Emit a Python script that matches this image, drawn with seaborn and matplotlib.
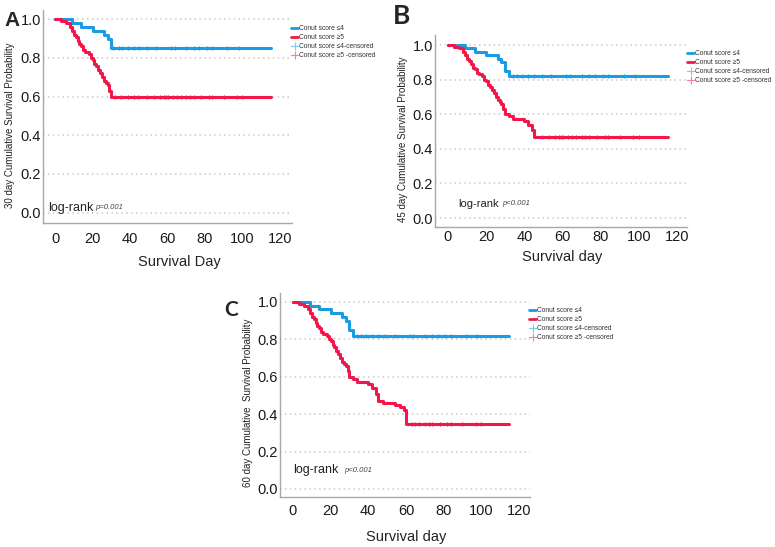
import pandas as pd
import seaborn as sns
import matplotlib.pyplot as plt
from matplotlib.lines import Line2D

# Kaplan-Meier step values (day, survival)
blue_times = [0, 9, 14, 20, 26, 28, 30, 32]
blue_surv = [1.0, 0.98, 0.96, 0.94, 0.92, 0.90, 0.85, 0.82]
red_times = [0, 3, 6, 8, 9, 10, 11, 12, 13, 14, 15, 16, 18, 19, 20, 21, 22, 23,
             24, 25, 26, 27, 28, 29, 30, 32, 34, 40, 42, 44, 45, 48, 54, 57, 59, 60]
red_surv = [1.0, 0.99, 0.98, 0.96, 0.94, 0.92, 0.91, 0.89, 0.87, 0.86, 0.84, 0.83,
            0.82, 0.80, 0.79, 0.77, 0.76, 0.74, 0.72, 0.70, 0.68, 0.67, 0.66, 0.63,
            0.60, 0.59, 0.57, 0.56, 0.54, 0.51, 0.47, 0.46, 0.45, 0.44, 0.42, 0.35]
blue_censor = [31, 34, 36, 39, 42, 45, 49, 54, 62, 64, 70, 74, 77, 81, 84, 92, 98]
red_censor = [32, 35, 39, 42, 44, 49, 53, 56, 58, 59, 60, 63, 65, 67, 70, 72, 74,
              78, 82, 84, 90, 97, 100]
end_day = 115

horizons = [30, 45, 60]
panel_letters = ["A", "B", "C"]
y_titles = ["30 day Cumulative Survival Probability",
            "45 day Cumulative Survival Probability",
            "60 day Cumulative  Survival Probability"]
x_titles = ["Survival Day", "Survival day", "Survival day"]
p_texts = ["p=0.001", "p<0.001", "p<0.001"]
legend_labels = ["Conut score \u22644", "Conut score \u22655",
                 "Conut score \u22644-censored", "Conut score \u22655 -censored"]
x_ticks = [0, 20, 40, 60, 80, 100, 120]
y_ticks = [0.0, 0.2, 0.4, 0.6, 0.8, 1.0]

BLUE = "#1b9be3"
RED = "#f2164b"
W, H = 775, 547

sns.set_style("white")
plt.rcParams["font.family"] = ["Liberation Sans", "DejaVu Sans"]

# layout in pixels: axes box, limits, label spots
layout = [
    dict(box=(43, 10, 292, 222.7), xlim=(-6.4, 126.4), ylim=(-0.052, 1.048),
         letter=(12, 20, 15, "Liberation Sans"), ylab=(10, 125), xlab=(179, 262),
         leg=(291, 25), logrank=(-3.5, 0.025, 9), pval=21.5, xpad=6.5),
    dict(box=(435, 35, 687, 227), xlim=(-6.8, 125.2), ylim=(-0.052, 1.058),
         letter=(402, 16, 19, "Lato"), ylab=(403, 139), xlab=(562, 257),
         leg=(687, 50), logrank=(5.2, 0.081, 8), pval=28.5, xpad=2.5),
    dict(box=(280, 293, 530, 497), xlim=(-6.9, 125.9), ylim=(-0.043, 1.048),
         letter=(231, 310, 15, "Lato"), ylab=(248, 403), xlab=(406, 537),
         leg=(529, 307), logrank=(0, 0.10, 9), pval=27, xpad=5),
]


def km_frame(times, surv, horizon):
    kept = [(t, s) for t, s in zip(times, surv) if t <= horizon]
    last_t, last_s = kept[-1]
    kept.append((end_day, last_s))
    return pd.DataFrame(kept, columns=["day", "surv"]), last_t, last_s


fig = plt.figure(figsize=(W / 100, H / 100), dpi=100)

for i, lay in enumerate(layout):
    x0, y0, x1, y1 = lay["box"]
    ax = fig.add_axes([x0 / W, 1 - y1 / H, (x1 - x0) / W, (y1 - y0) / H])

    for times, surv, cens, col in [(blue_times, blue_surv, blue_censor, BLUE),
                                   (red_times, red_surv, red_censor, RED)]:
        df, last_t, last_s = km_frame(times, surv, horizons[i])
        sns.lineplot(data=df, x="day", y="surv", drawstyle="steps-post",
                     color=col, lw=2.2, estimator=None, sort=False, ax=ax, zorder=3)
        c_days = [c for c in cens if c > last_t]
        ax.plot(c_days, [last_s] * len(c_days), ls="none", marker="|",
                ms=3.5, mew=0.9, color=col, zorder=4)

    ax.set_xlim(*lay["xlim"])
    ax.set_ylim(*lay["ylim"])
    ax.set_xticks(x_ticks)
    ax.set_yticks(y_ticks)
    ax.set_yticklabels([f"{v:.1f}" for v in y_ticks])
    ax.tick_params(length=0, labelsize=10.5, colors="#1a1a1a")
    ax.tick_params(axis="x", pad=lay["xpad"])
    ax.tick_params(axis="y", pad=1.5)
    ax.set_xlabel("")
    ax.set_ylabel("")
    ax.yaxis.grid(True, color="#c9c9c9", lw=1.1, linestyle=(0, (1, 2.2)))
    ax.xaxis.grid(False)
    for side in ["top", "right"]:
        ax.spines[side].set_visible(False)
    for side in ["left", "bottom"]:
        ax.spines[side].set_color("#a8a8a8")
        ax.spines[side].set_linewidth(1.0)

    lx, ly, lfs = lay["logrank"]
    ax.text(lx, ly, "log-rank", fontsize=lfs, va="center", ha="left", color="#222222")
    ax.text(lay["pval"], ly, p_texts[i], fontsize=5.5, style="italic",
            va="center", ha="left", color="#444444")

    # panel letter and titles
    px, py, fs, fam = lay["letter"]
    fig.text(px / W, 1 - py / H, panel_letters[i], fontsize=fs, fontweight="bold",
             family=fam, ha="center", va="center")
    fig.text(lay["ylab"][0] / W, 1 - lay["ylab"][1] / H, y_titles[i], rotation=90,
             fontsize=7, ha="center", va="center", color="#222222")
    fig.text(lay["xlab"][0] / W, 1 - lay["xlab"][1] / H, x_titles[i],
             fontsize=10.5, ha="center", va="center", color="#222222")

    handles = [Line2D([], [], color=BLUE, lw=2),
               Line2D([], [], color=RED, lw=2),
               Line2D([], [], color="#7ccaf2", lw=0.8, marker="+", ms=6, mew=0.8),
               Line2D([], [], color="#f5829c", lw=0.8, marker="+", ms=6, mew=0.8)]
    gx, gy = lay["leg"]
    fig.legend(handles, legend_labels, loc="upper left",
               bbox_to_anchor=(gx / W, 1 - gy / H), bbox_transform=fig.transFigure,
               frameon=False, fontsize=4.8, handlelength=1.1, handletextpad=0.15,
               labelspacing=0.3, borderpad=0, borderaxespad=0, labelcolor="#333333")

fig.savefig("out.png", dpi=100)
